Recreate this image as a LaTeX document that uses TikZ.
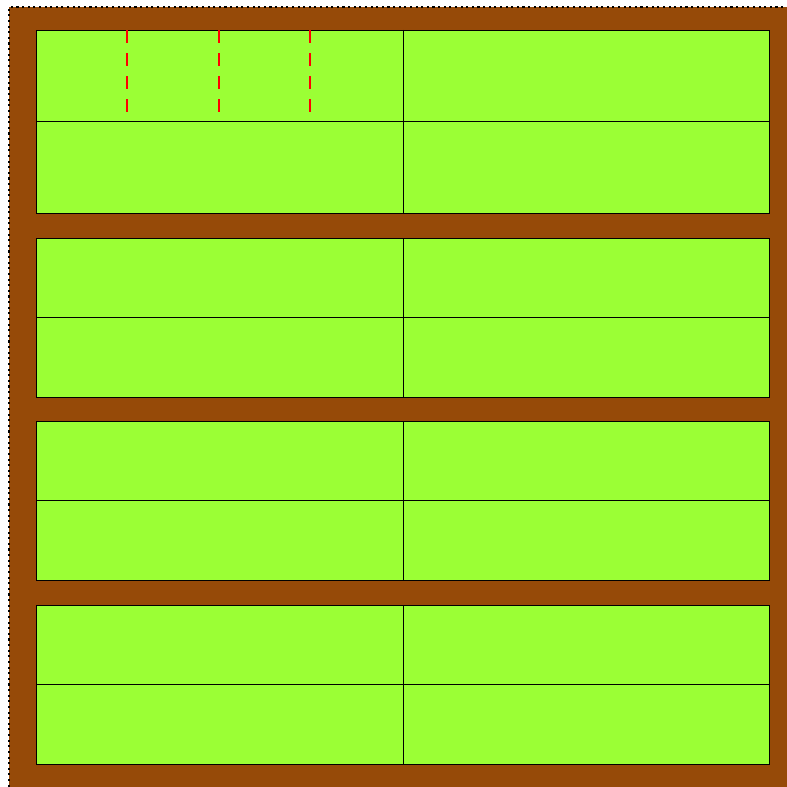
\documentclass[tikz,border=0pt]{standalone}
\usepackage{tikz}
\usetikzlibrary{positioning}

\definecolor{soilbrown}{RGB}{150,74,8}
\definecolor{bedgreen}{RGB}{155,255,53}

\begin{document}
\begin{tikzpicture}[x=0.02cm, y=-0.02cm,
                    bed/.style={fill=bedgreen, draw=black, line width=0.5pt},
                    split/.style={draw=black, line width=0.5pt},
                    cut/.style={draw=red, line width=1.5pt, dash pattern=on 7.4pt off 5.7pt}]

\useasboundingbox (0,0) rectangle (787,787);
\clip (0,0) rectangle (787,787);

% Frame
\fill[soilbrown] (9,7) rectangle (800,800);
\draw[black, dotted, line width=1.2pt] (800,7) -- (9,7) -- (9,800);

% Beds
\foreach \top/\mid/\bot in {30/121/213, 238/317/397, 421/500/580, 605/684/764}{
  \draw[bed] (36,\top) rectangle (769,\bot);
  \draw[split] (36,\mid) -- (769,\mid);
  \draw[split] (403,\top) -- (403,\bot);
}

% Cut lines
\coordinate (c1t) at (127,30);  \coordinate (c1b) at (127,113);
\coordinate (c2t) at (219,30);  \coordinate (c2b) at (219,113);
\coordinate (c3t) at (310,30);  \coordinate (c3b) at (310,113);
\draw[cut] (c1t) -- (c1b);
\draw[cut] (c2t) -- (c2b);
\draw[cut] (c3t) -- (c3b);

\end{tikzpicture}
\end{document}
